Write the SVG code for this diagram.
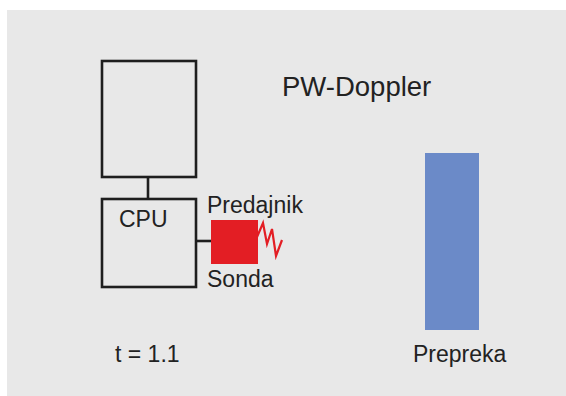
<svg xmlns="http://www.w3.org/2000/svg" width="566" height="396" viewBox="0 0 566 396">
  <style>
    .box { fill: none; stroke: #1e1e1e; stroke-width: 2.6; }
    .wire { fill: none; stroke: #1e1e1e; stroke-width: 2.6; }
    .lbl { font-family: "Liberation Sans", Arial, sans-serif; font-size: 23px; fill: #222; }
  </style>
  <rect x="0" y="0" width="566" height="396" fill="#ffffff"/>
  <rect x="7" y="10" width="559" height="386" fill="#e8e8e8"/>

  <text class="lbl" x="282" y="96" style="font-size:27.5px">PW-Doppler</text>

  <g id="connectors">
    <line class="wire" x1="148" y1="177" x2="148" y2="199"/>
    <line class="wire" x1="196" y1="241" x2="211" y2="241"/>
  </g>

  <g id="monitor">
    <rect class="box" x="102" y="61" width="94" height="116"/>
  </g>

  <g id="cpu">
    <rect class="box" x="102" y="199" width="94" height="88"/>
    <text class="lbl" x="119" y="227">CPU</text>
  </g>

  <g id="probe">
    <text class="lbl" x="207" y="213">Predajnik</text>
    <rect x="211" y="220" width="47" height="44" fill="#e31e24"/>
    <polyline points="257,237 263,223 267,244 272,229 276,256 282,240" fill="none" stroke="#e31e24" stroke-width="2.2"/>
    <text class="lbl" x="207" y="287">Sonda</text>
  </g>

  <g id="obstacle">
    <rect x="425" y="153" width="54" height="177" fill="#6b8ac8"/>
    <text class="lbl" x="413" y="362">Prepreka</text>
  </g>

  <text class="lbl" x="115" y="362">t = 1.1</text>
</svg>
